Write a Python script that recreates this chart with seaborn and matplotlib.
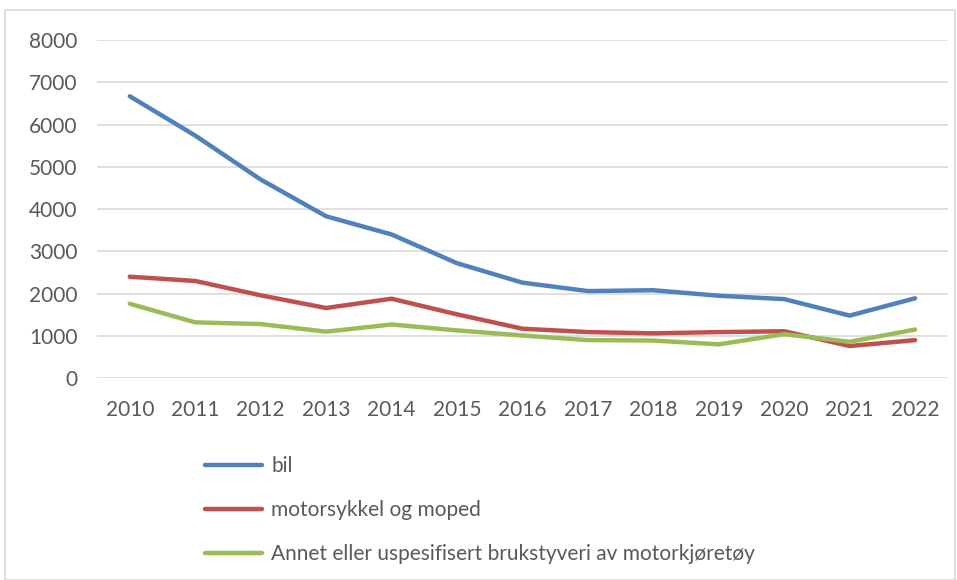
import numpy as np
import pandas as pd
import matplotlib.pyplot as plt
import seaborn as sns
from matplotlib.patches import Rectangle

years = [str(y) for y in range(2010, 2023)]
bil = [6670, 5740, 4700, 3830, 3400, 2720, 2260, 2060, 2080, 1950, 1870, 1480, 1890]
motorsykkel = [2400, 2300, 1960, 1660, 1880, 1510, 1170, 1090, 1060, 1090, 1110, 760, 900]
annet = [1760, 1320, 1280, 1100, 1270, 1130, 1010, 900, 890, 800, 1040, 860, 1150]
series_names = ["bil", "motorsykkel og moped",
                "Annet eller uspesifisert brukstyveri av motorkjøretøy"]
colors = ["#4F81BD", "#C0504D", "#9BBB59"]

df = pd.DataFrame({
    "år": years * 3,
    "antall": bil + motorsykkel + annet,
    "type": np.repeat(series_names, len(years)),
})

sns.set_style("white")
plt.rcParams["font.family"] = ["Lato", "DejaVu Sans"]

fig = plt.figure(figsize=(9.57, 5.8), dpi=100)
ax = fig.add_axes([0.1014, 0.348, 0.889, 0.583])

sns.lineplot(data=df, x="år", y="antall", hue="type", palette=colors,
             linewidth=3.2, sort=False, ax=ax, legend=False,
             solid_joinstyle="round", solid_capstyle="round")

ax.set_ylim(0, 8000)
ax.set_yticks(range(0, 8001, 1000))
ax.set_xlim(-0.5, len(years) - 0.5)
ax.yaxis.grid(True, color="#D9D9D9", linewidth=1.2)
ax.set_axisbelow(True)
for s in ax.spines.values():
    s.set_visible(False)
ax.set_xlabel("")
ax.set_ylabel("")
ax.tick_params(axis="both", length=0, labelsize=15, labelcolor="#595959")
ax.tick_params(axis="y", pad=14)
ax.tick_params(axis="x", pad=16)

handles = [plt.Line2D([], [], color=c, linewidth=3.2, solid_capstyle="round")
           for c in colors]
fig.legend(handles, series_names, loc="upper left", bbox_to_anchor=(0.195, 0.246),
           frameon=False, fontsize=15, labelcolor="#595959",
           handlelength=2.74, handletextpad=0.43, labelspacing=1.16)

fig.patches.append(Rectangle((0.005, 0.0), 0.993, 0.983, transform=fig.transFigure,
                             fill=False, edgecolor="#D9D9D9", linewidth=1.2))

fig.savefig("out.png", dpi=100)
plt.close(fig)
